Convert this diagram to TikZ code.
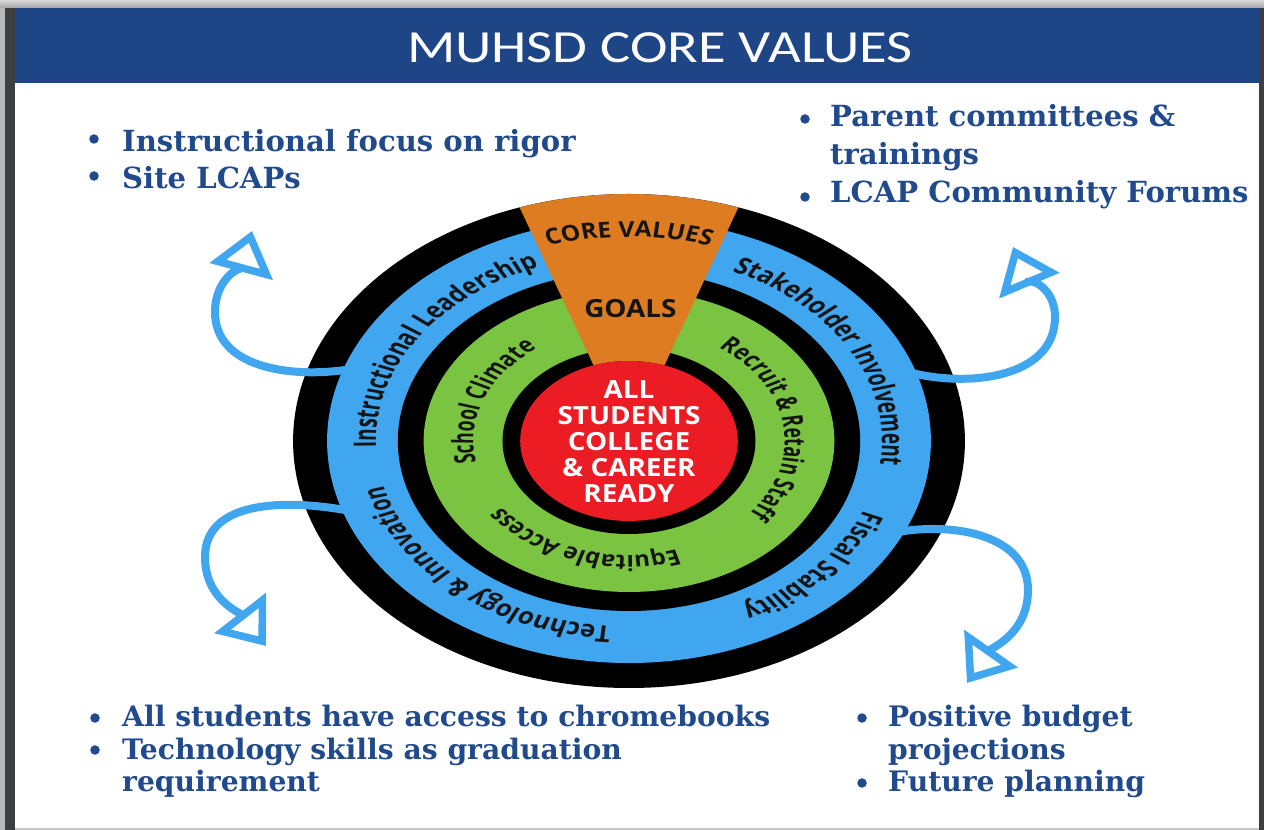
\documentclass[tikz,border=0pt]{standalone}
\usepackage{fontspec}
\usetikzlibrary{arrows.meta,decorations.text}

\newfontfamily\titlefont[FakeStretch=1.23]{Carlito}
\newfontfamily\ringfont[FakeStretch=0.82]{Open Sans}
\newfontfamily\listfont{DejaVu Serif}

\definecolor{titleblue}{RGB}{30,70,135}
\definecolor{listblue}{RGB}{32,74,140}
\definecolor{ringblue}{RGB}{64,166,240}
\definecolor{ringgreen}{RGB}{122,196,66}
\definecolor{coreorange}{RGB}{221,124,32}
\definecolor{corered}{RGB}{236,28,36}
\definecolor{framedark}{RGB}{60,62,66}
\definecolor{ringink}{RGB}{20,20,20}

\tikzset{
  disc/.style={circle, inner sep=0pt, outer sep=0pt, draw=none},
  flow/.style={draw=ringblue, line width=8pt,
    -{Triangle[open, length=42pt, width=64pt, line width=7.5pt]}},
  bulletdot/.style={circle, fill=listblue, inner sep=0pt, minimum size=9.5pt},
  listline/.style={anchor=base west, inner sep=0pt, text=listblue},
  toplist/.style={listline, font=\listfont\bfseries\fontsize{29.1}{33}\selectfont},
  botlist/.style={listline, font=\listfont\bfseries\fontsize{28.2}{32}\selectfont},
  ringlabel/.style={decorate, decoration={text along path, text color=ringink,
    text={|\ringfont\bfseries\fontsize{23}{23}\selectfont|#1}}},
  innerlabel/.style={decorate, decoration={text along path, text color=ringink,
    text={|\ringfont\bfseries\fontsize{21.4}{21.4}\selectfont|#1}}},
}

\begin{document}
\begin{tikzpicture}[x=1pt,y=1pt]
\useasboundingbox (0,0) rectangle (1264,830);
\fill[white] (0,0) rectangle (1264,830);

% page frame
\fill[gray!55] (0,0) rectangle (5,830);
\fill[framedark] (5,0) rectangle (15,830);
\fill[framedark] (1259,0) rectangle (1264,830);
\shade[top color=gray!30, bottom color=gray!70] (0,822) rectangle (1264,830);
\fill[gray!45] (15,0) rectangle (1259,2);

% title bar
\fill[titleblue] (15,747) rectangle (1259,822);
\node[font=\titlefont\fontsize{46}{50}\selectfont, text=white, inner sep=0pt] (title) at (660,782) {MUHSD CORE VALUES};

% the value wheel, drawn round its centre and widened as a whole
\begin{scope}[transform canvas={xshift=629pt, yshift=389pt, xscale=1.36}]
  \node[disc, fill=black, minimum size=494pt] (outer) at (0,0) {};
  \node[disc, fill=ringblue, minimum size=444pt] (blue) at (0,0) {};
  \node[disc, fill=black, minimum size=340pt] (midring) at (0,0) {};
  \node[disc, fill=ringgreen, minimum size=302pt] (green) at (0,0) {};
  \node[disc, fill=black, minimum size=186pt] (innerring) at (0,0) {};

  % core values / goals wedge
  \fill[coreorange] (71:247) arc[start angle=71, end angle=109, radius=247]
    -- (109:80) arc[start angle=109, end angle=71, radius=80] -- cycle;

  \node[disc, fill=corered, minimum size=160pt] (red) at (0,0) {};
  \node[text=white, align=center, inner sep=0pt,
        font=\ringfont\bfseries\fontsize{25}{26}\selectfont] (aim) at (0,-1)
    {ALL\\STUDENTS\\COLLEGE\\\&~CAREER\\READY};
  \node[text=ringink, inner sep=0pt, font=\ringfont\bfseries\fontsize{25}{25}\selectfont] (goals) at (1,132) {GOALS};

  \path[decorate, decoration={text along path, text align=center, text color=ringink,
    text={|\ringfont\bfseries\fontsize{22}{22}\selectfont|CORE VALUES}}]
    (125:204) arc[start angle=125, end angle=55, radius=204];

  % value ring
  \path[ringlabel={Instructional Leadership}] (182:186) arc[start angle=182, end angle=40, radius=186];
  \path[ringlabel={Stakeholder Involvement}] (66:186) arc[start angle=66, end angle=-40, radius=186];
  \path[ringlabel={Fiscal Stability}] (-22:186) arc[start angle=-22, end angle=-90, radius=186];
  \path[ringlabel={Technology {\&} Innovation}] (-94:186) arc[start angle=-94, end angle=-215, radius=186];

  % goal ring
  \path[innerlabel={School Climate}] (191:114.5) arc[start angle=191, end angle=90, radius=114.5];
  \path[innerlabel={Recruit {\&} Retain Staff}] (55:114.5) arc[start angle=55, end angle=-80, radius=114.5];
  \path[innerlabel={Equitable Access}] (-72:114.5) arc[start angle=-72, end angle=-200, radius=114.5];
\end{scope}

% curled arrows leaving the value ring
\coordinate (S1) at (345,460);
\coordinate (L1) at (215,518);
\coordinate (T1) at (252,599);
\coordinate (S2) at (908,458);
\coordinate (R2) at (1055,513);
\coordinate (T2) at (1013,583);
\coordinate (S3) at (345,320);
\coordinate (L3) at (205,273);
\coordinate (T3) at (266,184);
\coordinate (S4) at (898,298);
\coordinate (R4) at (1028,240);
\coordinate (T4) at (967,147);
\draw[flow] (S1) to[out=188,in=270] (L1) to[out=90,in=255] (T1);
\draw[flow] (S2) to[out=-15,in=270] (R2) to[out=90,in=-67] (T2);
\draw[flow] (S3) to[out=170,in=90] (L3) to[out=270,in=128] (T3);
\draw[flow] (S4) to[out=10,in=90] (R4) to[out=270,in=55] (T4);

% bullet lists
\node[bulletdot] (tlb1) at (94,691) {};
\node[bulletdot] (tlb2) at (94,654) {};
\node[toplist] (tl1) at (122,678) {Instructional focus on rigor};
\node[toplist] (tl2) at (122,641) {Site LCAPs};

\node[bulletdot] (trb1) at (805,711) {};
\node[bulletdot] (trb2) at (805,633) {};
\node[toplist] (tr1) at (830,703) {Parent committees \&};
\node[toplist] (tr2) at (830,665) {trainings};
\node[toplist] (tr3) at (830,627) {LCAP Community Forums};

\node[bulletdot] (blb1) at (95,112) {};
\node[bulletdot] (blb2) at (95,80) {};
\node[botlist] (bl1) at (122,103) {All students have access to chromebooks};
\node[botlist] (bl2) at (122,70) {Technology skills as graduation};
\node[botlist] (bl3) at (122,38) {requirement};

\node[bulletdot] (brb1) at (862,112) {};
\node[bulletdot] (brb2) at (862,47) {};
\node[botlist] (br1) at (888,103) {Positive budget};
\node[botlist] (br2) at (888,70) {projections};
\node[botlist] (br3) at (888,38) {Future planning};
\end{tikzpicture}
\end{document}
